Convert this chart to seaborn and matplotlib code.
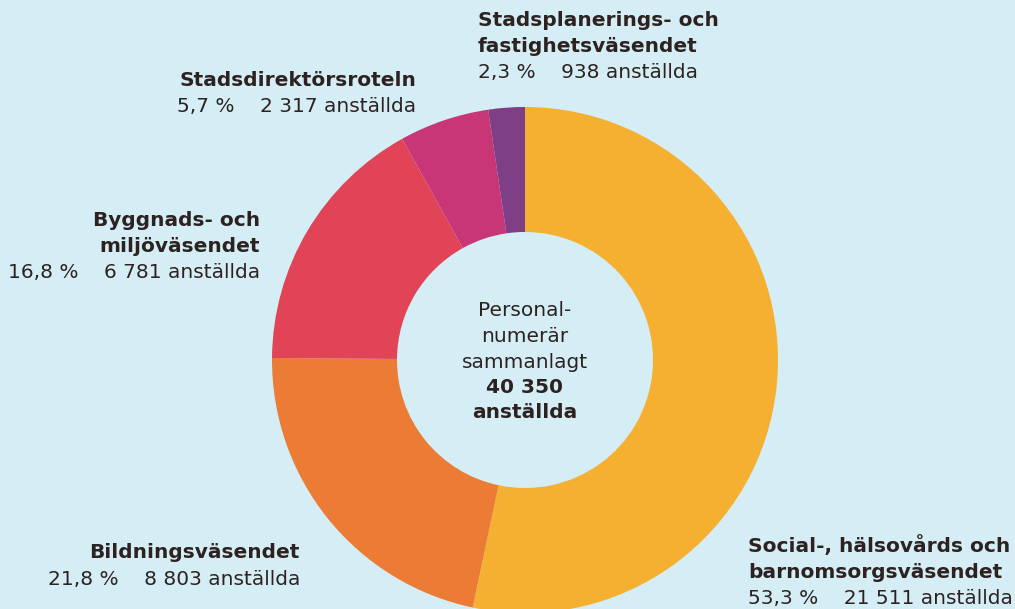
import matplotlib.pyplot as plt
import seaborn as sns

# Data
sectors = ["Social-, hälsovårds och\nbarnomsorgsväsendet", "Bildningsväsendet",
           "Byggnads- och\nmiljöväsendet", "Stadsdirektörsroteln",
           "Stadsplanerings- och\nfastighetsväsendet"]
shares = ["53,3 %", "21,8 %", "16,8 %", "5,7 %", "2,3 %"]
employees = [21511, 8803, 6781, 2317, 938]
colors = ["#f5b031", "#ec7c35", "#e04456", "#c93677", "#7e3f87"]
total = sum(employees)

bg = "#d5eef6"
ink = "#2d2220"

sns.set_theme(style="white")
plt.rcParams['font.family'] = ['DejaVu Sans']

fig = plt.figure(figsize=(10.15, 6.09), dpi=100, facecolor=bg)
ax = fig.add_axes([0, 0, 1, 1])
ax.set_facecolor(bg)

H = 609
cx, cy, r = 525, H - 360, 253
ax.pie(employees, colors=colors, startangle=90, counterclock=False,
       center=(cx, cy), radius=r,
       wedgeprops=dict(width=r - 128, linewidth=0))
ax.set_xlim(0, 1015)
ax.set_ylim(0, H)
ax.set_aspect('auto')
ax.axis('off')

fs = 14.5


def fmt(n):
    return f"{n:,}".replace(",", " ")


def label(i, x, y, ha):
    name_lines = sectors[i].split("\n")
    yy = y
    for line in name_lines:
        ax.text(x, H - yy, line, ha=ha, va='center', fontsize=fs,
                fontweight='bold', color=ink)
        yy += 26.5
    ax.text(x, H - yy, f"{shares[i]}    {fmt(employees[i])} anställda",
            ha=ha, va='center', fontsize=fs, color=ink)


label(0, 748, 546, 'left')
label(1, 300, 553, 'right')
label(2, 260, 220, 'right')
label(3, 416, 80, 'right')
label(4, 478, 20, 'left')

# centre text
for j, (t, w) in enumerate([("Personal-", 'normal'), ("numerär", 'normal'),
                            ("sammanlagt", 'normal'), (fmt(total), 'bold'),
                            ("anställda", 'bold')]):
    ax.text(cx, H - (311 + j * 25.5), t, ha='center', va='center',
            fontsize=fs, fontweight=w, color=ink)

fig.savefig("out.png", dpi=100, facecolor=bg)
